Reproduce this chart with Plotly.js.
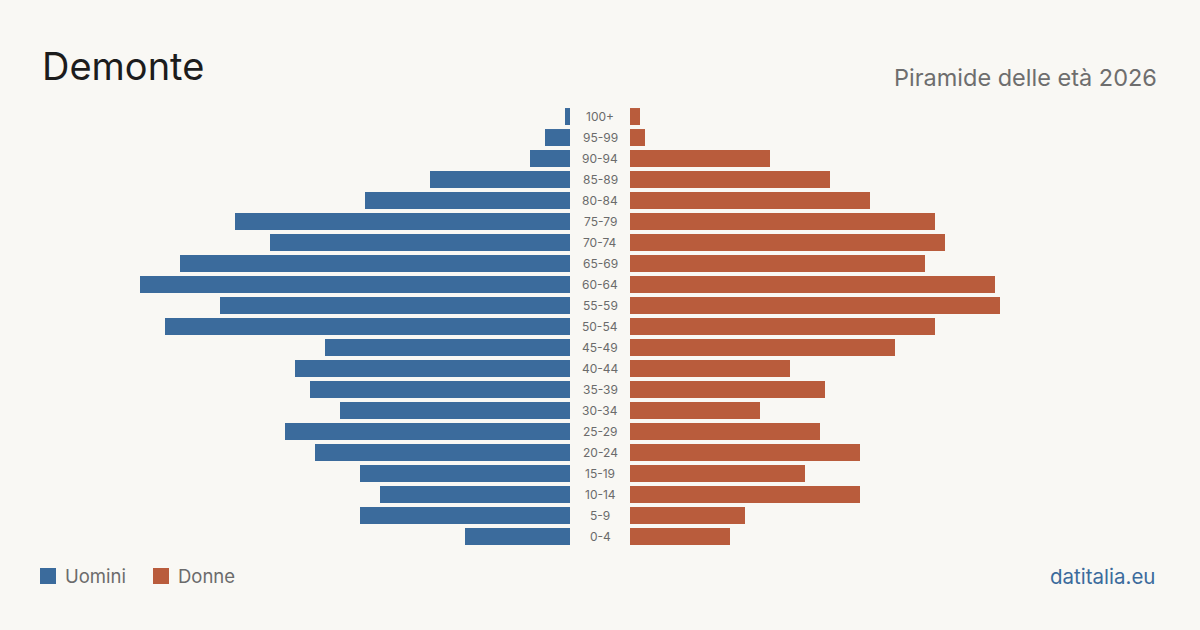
<!DOCTYPE html>
<html>
<head>
<meta charset="utf-8">
<script src="https://cdn.plot.ly/plotly-3.0.1.min.js"></script>
<style>
  html, body { margin: 0; padding: 0; background: #f9f8f4; }
  #chart { width: 1200px; height: 630px; }
</style>
</head>
<body>
<div id="chart"></div>
<script>
// Age classes, from oldest (top) to youngest (bottom)
const ageClasses = ["100+", "95-99", "90-94", "85-89", "80-84", "75-79", "70-74", "65-69",
  "60-64", "55-59", "50-54", "45-49", "40-44", "35-39", "30-34", "25-29", "20-24",
  "15-19", "10-14", "5-9", "0-4"];

// Residents per age class
const men   = [1, 5, 8, 28, 41, 67, 60, 78, 86, 70, 81, 49, 55, 52, 46, 57, 51, 42, 38, 42, 21];
const women = [2, 3, 28, 40, 48, 61, 63, 59, 73, 74, 61, 53, 32, 39, 26, 38, 46, 35, 46, 23, 20];

const BLUE = "#3b6b9c";
const RUST = "#b95c3c";
const BG = "#f9f8f4";
const FONT = "Inter, 'Noto Sans', sans-serif";

const maxVal = Math.max(...men, ...women);

const traces = [
  {
    type: "bar", orientation: "h", name: "Uomini",
    x: men, y: ageClasses, xaxis: "x", yaxis: "y",
    marker: { color: BLUE }, hoverinfo: "x+y"
  },
  {
    type: "bar", orientation: "h", name: "Donne",
    x: women, y: ageClasses, xaxis: "x2", yaxis: "y2",
    marker: { color: RUST }, hoverinfo: "x+y"
  }
];

const yCommon = {
  type: "category",
  categoryorder: "array",
  categoryarray: ageClasses.slice().reverse(),
  range: [-0.5, ageClasses.length - 0.5],
  domain: [0.1317, 0.8317],
  showticklabels: false, showgrid: false, zeroline: false, showline: false, ticks: ""
};

// Age class labels in the gap between the two halves
const labelAnnotations = ageClasses.map(a => ({
  text: a, x: 0.5, xref: "paper", y: a, yref: "y",
  showarrow: false, xanchor: "center", yanchor: "middle",
  font: { family: FONT, size: 12, color: "#6b6b6b" }
}));

const layout = {
  width: 1200, height: 630,
  paper_bgcolor: BG, plot_bgcolor: BG,
  margin: { l: 0, r: 0, t: 0, b: 0 },
  showlegend: false,
  bargap: 0.19,
  xaxis: {
    domain: [140 / 1200, 570 / 1200], range: [maxVal, 0],
    showticklabels: false, showgrid: false, zeroline: false, showline: false, ticks: ""
  },
  xaxis2: {
    domain: [630 / 1200, 1060 / 1200], range: [0, maxVal], anchor: "y2",
    showticklabels: false, showgrid: false, zeroline: false, showline: false, ticks: ""
  },
  yaxis: Object.assign({ anchor: "x" }, yCommon),
  yaxis2: Object.assign({ anchor: "x2" }, yCommon),
  shapes: [
    { type: "rect", xref: "paper", yref: "paper",
      x0: 40 / 1200, x1: 56 / 1200, y0: (630 - 584) / 630, y1: (630 - 568) / 630,
      fillcolor: BLUE, line: { width: 0 } },
    { type: "rect", xref: "paper", yref: "paper",
      x0: 153 / 1200, x1: 169 / 1200, y0: (630 - 584) / 630, y1: (630 - 568) / 630,
      fillcolor: RUST, line: { width: 0 } }
  ],
  annotations: labelAnnotations.concat([
    { text: "Demonte", xref: "paper", yref: "paper", x: 40 / 1200, y: (630 - 66) / 630,
      xanchor: "left", yanchor: "middle", showarrow: false,
      font: { family: FONT, size: 38, color: "#1c1c1c" } },
    { text: "Piramide delle età 2026", xref: "paper", yref: "paper", x: 1159 / 1200, y: (630 - 77) / 630,
      xanchor: "right", yanchor: "middle", showarrow: false,
      font: { family: FONT, size: 23.5, color: "#6e6e6e" } },
    { text: "Uomini", xref: "paper", yref: "paper", x: 63 / 1200, y: (630 - 576) / 630,
      xanchor: "left", yanchor: "middle", showarrow: false,
      font: { family: FONT, size: 18.5, color: "#6b6b6b" } },
    { text: "Donne", xref: "paper", yref: "paper", x: 176 / 1200, y: (630 - 576) / 630,
      xanchor: "left", yanchor: "middle", showarrow: false,
      font: { family: FONT, size: 18.5, color: "#6b6b6b" } },
    { text: "datitalia.eu", xref: "paper", yref: "paper", x: 1157 / 1200, y: (630 - 576) / 630,
      xanchor: "right", yanchor: "middle", showarrow: false,
      font: { family: FONT, size: 20.5, color: "#3b6b9c" } }
  ])
};

Plotly.newPlot("chart", traces, layout, { staticPlot: true, displayModeBar: false });
</script>
</body>
</html>
